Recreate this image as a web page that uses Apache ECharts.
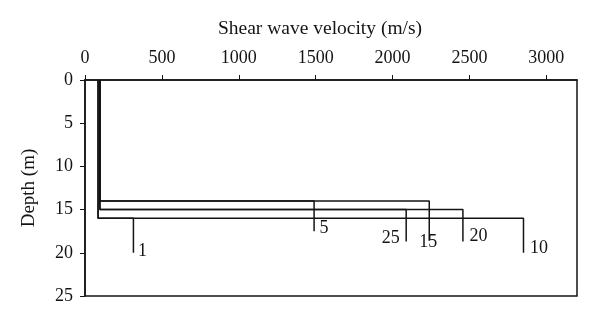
<!DOCTYPE html>
<html>
<head>
<meta charset="utf-8">
<title>Shear wave velocity profiles</title>
<script src="https://cdn.jsdelivr.net/npm/echarts@6/dist/echarts.min.js"></script>
<style>
  html, body { margin: 0; padding: 0; background: #ffffff; }
  #chart { width: 600px; height: 326px; }
</style>
</head>
<body>
<div id="chart"></div>
<script>
// Velocity profiles: each one is a soft layer from the surface down to an
// interface, then a stiff layer down to the bottom of the column.
const profileNames   = ['1', '5', '10', '15', '20', '25'];
const surfaceVs      = [85, 97, 85, 97, 97, 97];          // m/s, top layer
const interfaceDepth = [16, 14, 16, 14, 15, 15];          // m
const baseVs         = [315, 1490, 2852, 2239, 2458, 2089]; // m/s, lower layer
const bottomDepth    = [20, 17.5, 20, 18.6, 18.7, 18.7];  // m

const xTicks = { min: 0, max: 3200, step: 500 };
const yTicks = { min: 0, max: 25, step: 5 };

// Where each profile's name sits next to the end of its line
const labelPlacement = {
  '1':  { position: 'right', offset: [0, -2] },
  '5':  { position: 'right', offset: [1, -3] },
  '10': { position: 'right', offset: [2, -5] },
  '15': { position: 'bottom', offset: [-1, -12] },
  '20': { position: 'right', offset: [2, -5] },
  '25': { position: 'left', offset: [-2, -3] }
};

const serif = '"Liberation Serif", "DejaVu Serif", serif';
const ink = '#141414';

const profileSeries = profileNames.map((name, i) => ({
  name: 'Profile ' + name,
  type: 'line',
  symbol: 'none',
  silent: true,
  lineStyle: { color: ink, width: 1.5 },
  data: [
    [surfaceVs[i], 0],
    [surfaceVs[i], interfaceDepth[i]],
    [baseVs[i], interfaceDepth[i]],
    [baseVs[i], bottomDepth[i]]
  ],
  z: 3
}));

const labelSeries = {
  type: 'scatter',
  silent: true,
  symbolSize: 1,
  itemStyle: { color: 'rgba(0,0,0,0)', opacity: 1 },
  data: profileNames.map((name, i) => ({
    value: [baseVs[i], bottomDepth[i]],
    label: Object.assign({
      show: true,
      formatter: name,
      fontFamily: serif,
      fontSize: 18,
      color: ink,
      opacity: 1,
      textBorderWidth: 0,
      distance: 4
    }, labelPlacement[name])
  })),
  z: 4
};

const plain = v => String(v);

const chart = echarts.init(document.getElementById('chart'), null, { renderer: 'canvas' });
chart.setOption({
  animation: false,
  backgroundColor: '#ffffff',
  grid: {
    left: 85, right: 23, top: 80, bottom: 30,
    show: true, borderColor: ink, borderWidth: 1.5, backgroundColor: 'transparent'
  },
  xAxis: {
    type: 'value',
    position: 'top',
    min: xTicks.min, max: xTicks.max, interval: xTicks.step,
    name: 'Shear wave velocity (m/s)',
    nameLocation: 'middle',
    nameGap: 41,
    nameTextStyle: { fontFamily: serif, fontSize: 19.5, color: ink, padding: [0, 22, 0, 0] },
    axisLine: { show: true, lineStyle: { color: ink, width: 1.5 } },
    axisTick: { show: true, inside: false, length: 5, lineStyle: { color: ink, width: 1 } },
    axisLabel: { fontFamily: serif, fontSize: 18, color: ink, margin: 13, showMaxLabel: false, formatter: plain },
    splitLine: { show: false }
  },
  yAxis: {
    type: 'value',
    inverse: true,
    min: yTicks.min, max: yTicks.max, interval: yTicks.step,
    name: 'Depth (m)',
    nameLocation: 'middle',
    nameRotate: 90,
    nameGap: 46,
    nameTextStyle: { fontFamily: serif, fontSize: 19, color: ink },
    axisLine: { show: true, lineStyle: { color: ink, width: 1.5 } },
    axisTick: { show: true, inside: false, length: 5, lineStyle: { color: ink, width: 1 } },
    axisLabel: { fontFamily: serif, fontSize: 18, color: ink, margin: 12, formatter: plain },
    splitLine: { show: false }
  },
  series: profileSeries.concat([labelSeries])
});
</script>
</body>
</html>
